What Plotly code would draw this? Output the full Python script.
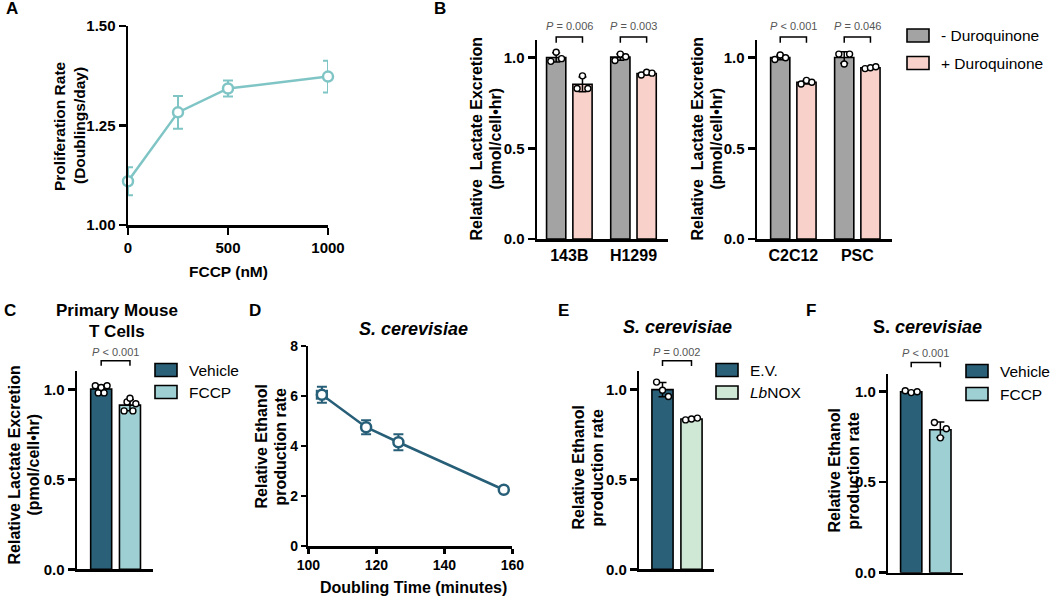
import numpy as np
import plotly.graph_objects as go

W, H = 1050, 598
FONT = "Liberation Sans, Arial, Helvetica, sans-serif"

# ---------------- Data ----------------
# Panel A
a_fccp_nm = [0, 250, 500, 1000]
a_prolif_rate = [1.11, 1.283, 1.343, 1.373]
a_prolif_err = [0.035, 0.041, 0.02, 0.04]
a_xticks = [0, 500, 1000]
a_yticks = [1.00, 1.25, 1.50]

# Panel B
b_left_cells = ["143B", "H1299"]
b_right_cells = ["C2C12", "PSC"]
b_143b_minus = [0.98, 1.03, 0.995]
b_143b_plus = [0.83, 0.90, 0.83]
b_h1299_minus = [0.985, 1.02, 1.005]
b_h1299_plus = [0.905, 0.92, 0.915]
b_c2c12_minus = [0.99, 1.015, 1.0]
b_c2c12_plus = [0.855, 0.875, 0.865]
b_psc_minus = [1.02, 0.965, 1.02]
b_psc_plus = [0.94, 0.945, 0.95]
b_left_pvalues = ["= 0.006", "= 0.003"]
b_right_pvalues = ["< 0.001", "= 0.046"]
b_groups = ["- Duroquinone", "+ Duroquinone"]
bar_yticks = [0.0, 0.5, 1.0]

# Panel C
c_groups = ["Vehicle", "FCCP"]
c_vehicle = [1.02, 0.98, 1.01, 0.98, 1.02]
c_fccp = [0.88, 0.93, 0.95, 0.88, 0.92]
c_pvalue = "< 0.001"

# Panel D
d_doubling_min = [104, 117, 126.5, 157.5]
d_ethanol_rate = [6.05, 4.75, 4.15, 2.25]
d_ethanol_err = [0.32, 0.28, 0.32, 0.0]
d_doubling_err = [1.5, 0, 0, 0]
d_xticks = [100, 120, 140, 160]
d_yticks = [0, 2, 4, 6, 8]

# Panel E
e_groups = ["E.V.", "<i>Lb</i>NOX"]
e_ev = [1.04, 0.995, 0.96]
e_lbnox = [0.83, 0.835, 0.84]
e_pvalue = "= 0.002"

# Panel F
f_groups = ["Vehicle", "FCCP"]
f_vehicle = [1.005, 0.995, 1.0]
f_fccp = [0.83, 0.745, 0.795]
f_pvalue = "< 0.001"

# ---------------- Styles ----------------
GRAY = "#a3a3a3"
PINK = "#f8d1ca"
DARK = "#2a6078"
LTEAL = "#9ecfd3"
LGREEN = "#cfe8d5"
ATEAL = "#80c5c5"
DLINE = "#285f78"

fig = go.Figure()


def ax_name(k):
    return "" if k == 1 else str(k)


def axis_style(**kw):
    d = dict(showline=True, linecolor="black", linewidth=2.5, showgrid=False,
             zeroline=False, ticks="outside", ticklen=7, tickwidth=2.5,
             tickcolor="black", fixedrange=True, automargin=False,
             tickfont=dict(family=FONT, size=15, color="black", weight="bold"))
    d.update(kw)
    return d


# panel layout in pixels: x-pixels, y-pixels (top, bottom)
layout_px = {
    1: ((128, 328), (26, 225)),
    2: ((537, 668), (39.6, 239)),
    3: ((757, 891.7), (39.6, 239)),
    4: ((77, 153), (371.3, 569.3)),
    5: ((308.3, 512.3), (346, 546)),
    6: ((639.3, 714), (371.3, 569.3)),
    7: ((888.3, 963.3), (373.6, 572.7)),
}

x_ranges = {1: [0, 1000], 2: [-0.504, 1.538], 3: [-0.568, 1.537],
            4: [-0.84, 1.8], 5: [100, 160], 6: [-0.8, 1.776], 7: [-0.786, 1.787]}
y_ranges = {1: [1.0, 1.5], 2: [0, 1.1], 3: [0, 1.1], 4: [0, 1.1],
            5: [0, 8], 6: [0, 1.1], 7: [0, 1.1]}

lay = {}
for k, ((x0, x1), (yt, yb)) in layout_px.items():
    s = ax_name(k)
    xa = dict(domain=[x0 / W, x1 / W], anchor="y" + s, range=x_ranges[k])
    ya = dict(domain=[1 - yb / H, 1 - yt / H], anchor="x" + s, range=y_ranges[k])
    if k == 1:
        xa.update(axis_style(tickvals=a_xticks))
        ya.update(axis_style(tickvals=a_yticks, tickformat=".2f"))
    elif k == 5:
        dfont = dict(family=FONT, size=14, color="black", weight="bold")
        xa.update(axis_style(tickvals=d_xticks, ticklen=5, tickfont=dfont))
        ya.update(axis_style(tickvals=d_yticks, ticklen=5, tickfont=dfont))
    else:
        xa.update(axis_style(ticks="", tickfont=dict(family=FONT, size=16,
                                                      color="black", weight="bold")))
        ya.update(axis_style(tickvals=bar_yticks, tickformat=".1f"))
    lay["xaxis" + s] = xa
    lay["yaxis" + s] = ya

# ---------------- Panel A ----------------
fig.add_trace(go.Scatter(
    x=a_fccp_nm, y=a_prolif_rate, mode="lines+markers",
    line=dict(color=ATEAL, width=2.5),
    marker=dict(size=10, color="white", line=dict(color=ATEAL, width=2.5)),
    error_y=dict(type="data", array=a_prolif_err, color=ATEAL, thickness=2, width=5),
    cliponaxis=False, showlegend=False, xaxis="x", yaxis="y"))

# ---------------- Panel D ----------------
fig.add_trace(go.Scatter(
    x=d_doubling_min, y=d_ethanol_rate, mode="lines+markers",
    line=dict(color=DLINE, width=2.5),
    marker=dict(size=10, color="white", line=dict(color=DLINE, width=2.5)),
    error_y=dict(type="data", array=d_ethanol_err, color=DLINE, thickness=2, width=5),
    error_x=dict(type="data", array=d_doubling_err, color=DLINE, thickness=2, width=5),
    cliponaxis=False, showlegend=False, xaxis="x5", yaxis="y5"))


# ---------------- Bar helpers ----------------
def add_bar(k, pos, vals, color, width):
    s = ax_name(k)
    vals = np.array(vals, dtype=float)
    mean = float(vals.mean())
    sd = float(vals.std(ddof=1))
    fig.add_trace(go.Bar(
        x=[pos], y=[mean], width=width,
        marker=dict(color=color, line=dict(color="black", width=1.6)),
        error_y=dict(type="data", array=[sd], color="black", thickness=1.5, width=4),
        showlegend=False, xaxis="x" + s, yaxis="y" + s))
    n = len(vals)
    jit = np.linspace(-0.28, 0.28, n) * width
    fig.add_trace(go.Scatter(
        x=pos + jit, y=vals, mode="markers",
        marker=dict(size=6, color="white", line=dict(color="black", width=1.4)),
        cliponaxis=False, showlegend=False, xaxis="x" + s, yaxis="y" + s))
    return mean


shapes = []
annotations = []


def to_dom(k, xv, yv):
    """Map data values to the subplot's domain fractions (may exceed 1)."""
    xr, yr = x_ranges[k], y_ranges[k]
    return (xv - xr[0]) / (xr[1] - xr[0]), (yv - yr[0]) / (yr[1] - yr[0])


def add_bracket(k, xa, xb, y_top, y_leg, y_txt, ptext):
    s = ax_name(k)
    xa_d, yt_d = to_dom(k, xa, y_top)
    xb_d, yl_d = to_dom(k, xb, y_leg)
    _, ytx_d = to_dom(k, xa, y_txt)
    shapes.append(dict(type="path", xref=f"x{s} domain", yref=f"y{s} domain",
                       path=f"M {xa_d},{yl_d} L {xa_d},{yt_d} L {xb_d},{yt_d} L {xb_d},{yl_d}",
                       line=dict(color="black", width=1.5)))
    annotations.append(dict(xref=f"x{s} domain", yref=f"y{s} domain",
                            x=(xa_d + xb_d) / 2, y=ytx_d,
                            text="<i>P</i> " + ptext, showarrow=False,
                            font=dict(family=FONT, size=11, color="#555555"),
                            xanchor="center", yanchor="middle"))


# Panel B
B_OFF, B_W = 0.205, 0.30
b_left_data = [(b_143b_minus, b_143b_plus), (b_h1299_minus, b_h1299_plus)]
b_right_data = [(b_c2c12_minus, b_c2c12_plus), (b_psc_minus, b_psc_plus)]
for k, cells, data, pvals in [(2, b_left_cells, b_left_data, b_left_pvalues),
                              (3, b_right_cells, b_right_data, b_right_pvalues)]:
    for i, (minus, plus) in enumerate(data):
        add_bar(k, i - B_OFF, minus, GRAY, B_W)
        add_bar(k, i + B_OFF, plus, PINK, B_W)
        add_bracket(k, i - B_OFF, i + B_OFF, 1.115, 1.083, 1.175, pvals[i])
    lay["xaxis" + ax_name(k)].update(tickvals=list(range(len(cells))), ticktext=cells)

# Panels C, E, F
S_W = 0.73
for k, groups, data, colors, pv, yb in [
        (4, c_groups, [c_vehicle, c_fccp], [DARK, LTEAL], c_pvalue, (1.159, 1.131, 1.209)),
        (6, e_groups, [e_ev, e_lbnox], [DARK, LGREEN], e_pvalue, (1.159, 1.13, 1.209)),
        (7, f_groups, [f_vehicle, f_fccp], [DARK, LTEAL], f_pvalue, (1.162, 1.135, 1.215))]:
    for i, (vals, col) in enumerate(zip(data, colors)):
        add_bar(k, i, vals, col, S_W)
    add_bracket(k, 0, 1, yb[0], yb[1], yb[2], pv)
    lay["xaxis" + ax_name(k)].update(showticklabels=False)


# ---------------- Text helpers ----------------
def txt(x, y, text, size=16, bold=True, angle=0, anchor="center", color="black"):
    annotations.append(dict(xref="paper", yref="paper", x=x / W, y=1 - y / H, text=text,
                            showarrow=False, textangle=angle, xanchor=anchor, yanchor="middle",
                            font=dict(family=FONT, size=size, color=color,
                                      weight="bold" if bold else "normal")))


def vtitle(xc, yc, lines, size=16, gap=19):
    n = len(lines)
    for j, line in enumerate(lines):
        txt(xc + (j - (n - 1) / 2) * gap, yc, line, size=size, angle=-90)


def legend(x, ys, labels, colors):
    for yc, lab, col in zip(ys, labels, colors):
        shapes.append(dict(type="rect", xref="paper", yref="paper",
                           x0=x / W, x1=(x + 22) / W,
                           y0=1 - (yc + 6.5) / H, y1=1 - (yc - 6.5) / H,
                           fillcolor=col, line=dict(color="black", width=1.6)))
        txt(x + 32, yc, lab, size=15.5, bold=False, anchor="left")


# Panel letters
for letter, lx, ly in [("A", 4, 9), ("B", 432, 9), ("C", 2, 310), ("D", 247, 310),
                       ("E", 556, 310), ("F", 804, 310)]:
    txt(lx, ly, letter, size=17, anchor="left")

# Axis titles
vtitle(70, 126, ["Proliferation Rate", "(Doublings/day)"], size=15.5, gap=20)
txt(228, 272, "FCCP (nM)", size=15.5)
vtitle(486, 139, ["Relative  Lactate Excretion", "(pmol/cell\u2022hr)"])
vtitle(707, 139, ["Relative  Lactate Excretion", "(pmol/cell\u2022hr)"])
vtitle(23, 465, ["Relative Lactate Excretion", "(pmol/cell\u2022hr)"])
vtitle(271, 447, ["Relative Ethanol", "production rate"])
txt(413, 587, "Doubling Time (minutes)", size=16)
vtitle(587, 468, ["Relative Ethanol", "production rate"])
vtitle(843, 471, ["Relative Ethanol", "production rate"])

# Panel titles
txt(117, 310, "Primary Mouse", size=17)
txt(117, 331, "T Cells", size=17)
txt(413, 329, "<i>S. cerevisiae</i>", size=18)
txt(677, 327, "<i>S. cerevisiae</i>", size=18)
txt(927, 327, "S. <i>cerevisiae</i>", size=18)

# Legends
legend(907, [35.5, 63], b_groups, [GRAY, PINK])
legend(155, [370, 392], c_groups, [DARK, LTEAL])
legend(716, [370, 392.5], e_groups, [DARK, LGREEN])
legend(966, [371, 394], f_groups, [DARK, LTEAL])

fig.update_layout(
    template="none",
    width=W, height=H, margin=dict(l=0, r=0, t=0, b=0, autoexpand=False),
    paper_bgcolor="white", plot_bgcolor="white",
    barmode="overlay", showlegend=False, hovermode=False,
    font=dict(family=FONT, color="black"),
    shapes=shapes, annotations=annotations, **lay)

fig.write_html("out.html", config={"displayModeBar": False, "staticPlot": True},
               post_script="document.body.style.margin='0';document.body.style.overflow='hidden';")
